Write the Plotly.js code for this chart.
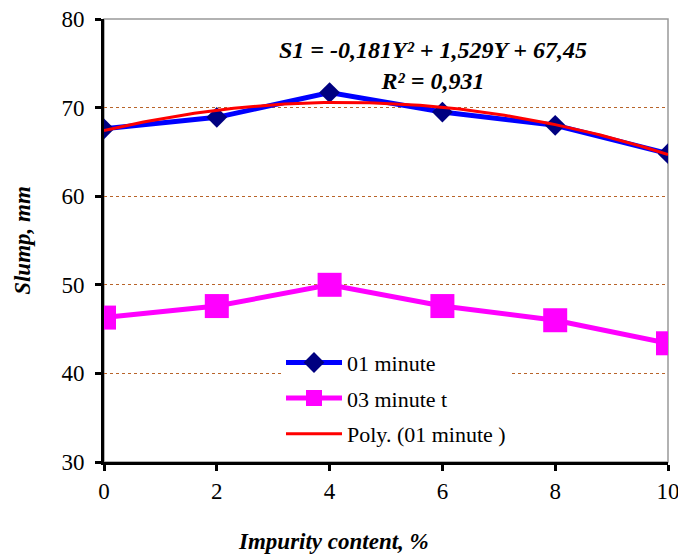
<!DOCTYPE html>
<html><head><meta charset="utf-8">
<script src="https://cdn.plot.ly/plotly-3.0.1.min.js"></script>
<style>html,body{margin:0;padding:0;background:#fff}#chart{width:678px;height:556px}</style>
</head><body><div id="chart"></div>
<script>
const impurity = [0, 2, 4, 6, 8, 10];
const slump01 = [67.6, 68.9, 71.7, 69.5, 68.0, 64.8];
const slump03 = [46.3, 47.6, 50.0, 47.6, 46.0, 43.4];
const seriesNames = ['01 minute', '03 minute t', 'Poly. (01 minute )'];
const eqText = 'S1 = -0,181Y² + 1,529Y + 67,45<br>R² = 0,931';
const xTitle = 'Impurity content, %';
const yTitle = 'Slump, mm';

// quadratic least-squares fit of the 01 minute series
function quadFit(xs, ys) {
  let S = [0,0,0,0,0], T = [0,0,0];
  for (let i = 0; i < xs.length; i++) {
    let p = 1;
    for (let k = 0; k < 5; k++) { S[k] += p; if (k < 3) T[k] += p * ys[i]; p *= xs[i]; }
  }
  const A = [[S[0],S[1],S[2],T[0]],[S[1],S[2],S[3],T[1]],[S[2],S[3],S[4],T[2]]];
  for (let c = 0; c < 3; c++) {
    for (let r = c + 1; r < 3; r++) {
      const f = A[r][c] / A[c][c];
      for (let k = c; k < 4; k++) A[r][k] -= f * A[c][k];
    }
  }
  const b = [0,0,0];
  for (let r = 2; r >= 0; r--) {
    let s = A[r][3];
    for (let k = r + 1; k < 3; k++) s -= A[r][k] * b[k];
    b[r] = s / A[r][r];
  }
  return b;
}
const coef = quadFit(impurity, slump01);
const fitX = [], fitY = [];
for (let i = 0; i <= 100; i++) {
  const x = impurity[0] + (impurity[impurity.length-1] - impurity[0]) * i / 100;
  fitX.push(x); fitY.push(coef[0] + coef[1]*x + coef[2]*x*x);
}

const serif = '"Liberation Serif", "Times New Roman", serif';
const traces = [
  {x: impurity, y: slump01, name: seriesNames[0], mode: 'lines+markers', legendgroup: 'a',
   line: {color: '#0000ff', width: 5}, marker: {symbol: 'diamond', size: 16, color: '#000080'}},
  {x: impurity, y: slump03, name: seriesNames[1], mode: 'lines+markers', legendgroup: 'b',
   line: {color: '#ff00ff', width: 5}, marker: {symbol: 'square', size: 24, color: '#ff00ff'}},
  {x: fitX, y: fitY, name: seriesNames[2], mode: 'lines', legendgroup: 'c',
   line: {color: '#ff0000', width: 3}}
];

const layout = {
  width: 678, height: 556,
  margin: {l: 104, r: 10, t: 19, b: 94},
  paper_bgcolor: '#fff', plot_bgcolor: '#fff',
  font: {family: serif, size: 22, color: '#000'},
  showlegend: true,
  legend: {x: (281-104)/564, y: 0.2716, xanchor: 'left', yanchor: 'top', bgcolor: '#fff',
           font: {family: serif, size: 22}, traceorder: 'grouped', tracegroupgap: 4,
           itemwidth: 56},
  xaxis: {range: [0, 10], tickvals: impurity, ticktext: impurity.map(String),
          showgrid: false, zeroline: false, showline: true, linecolor: '#000', linewidth: 3,
          ticks: 'outside', ticklen: 6, tickwidth: 3, tickcolor: '#000',
          ticklabeloverflow: 'allow',
          tickfont: {family: serif, size: 23}},
  yaxis: {range: [30, 80], dtick: 10, showgrid: true, gridcolor: '#b8642a', griddash: 'dot', gridwidth: 1,
          zeroline: false, showline: true, linecolor: '#000', linewidth: 3,
          ticks: 'outside', ticklen: 6, tickwidth: 3, tickcolor: '#000',
          ticklabelstandoff: 6,
          tickfont: {family: serif, size: 23},
          title: {text: '<b><i>' + yTitle + '</i></b>', font: {family: serif, size: 23}, standoff: 25}},
  shapes: [{type: 'rect', xref: 'paper', yref: 'paper', x0: 0, x1: 1, y0: 0, y1: 1,
            line: {color: '#999', width: 1.5}, layer: 'below'}],
  annotations: [
    {xref: 'paper', yref: 'paper', x: 0.584, y: 0.894, xanchor: 'center', yanchor: 'middle',
     text: '<b><i>' + eqText + '</i></b>', showarrow: false, align: 'center',
     font: {family: serif, size: 24}},
    {xref: 'paper', yref: 'paper', x: (333-104)/564, y: -(541-462)/443, xanchor: 'center', yanchor: 'middle',
     text: '<b><i>' + xTitle + '</i></b>', showarrow: false,
     font: {family: serif, size: 23}}
  ]
};
Plotly.newPlot('chart', traces, layout, {displayModeBar: false, staticPlot: true});
</script></body></html>
